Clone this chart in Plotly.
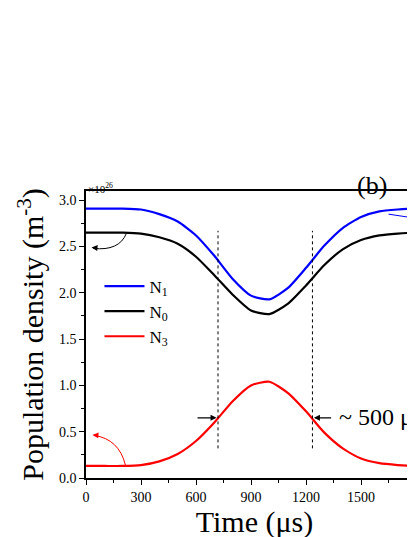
import plotly.graph_objects as go

time = [0, 100, 200, 300, 400, 500, 600, 700, 800, 900, 1000, 1100, 1200, 1300, 1400, 1500, 1600, 1700, 1800, 1900]
n1 = [2.91, 2.91, 2.91, 2.90, 2.85, 2.77, 2.62, 2.40, 2.15, 1.97, 1.93, 2.05, 2.27, 2.51, 2.70, 2.82, 2.88, 2.90, 2.91, 2.91]
n0 = [2.65, 2.65, 2.65, 2.64, 2.60, 2.53, 2.39, 2.19, 1.98, 1.81, 1.77, 1.88, 2.08, 2.30, 2.47, 2.57, 2.62, 2.64, 2.65, 2.65]
n3 = [0.13, 0.13, 0.13, 0.14, 0.18, 0.26, 0.40, 0.60, 0.83, 1.00, 1.04, 0.92, 0.72, 0.49, 0.32, 0.21, 0.16, 0.14, 0.13, 0.13]

F = "Liberation Serif"
fig = go.Figure()
for name, y, c in [("N<sub>1</sub>", n1, "#0000ff"), ("N<sub>0</sub>", n0, "#000000"), ("N<sub>3</sub>", n3, "#ff0000")]:
    fig.add_trace(go.Scatter(x=time, y=y, mode="lines", name=name,
                             line=dict(color=c, width=2.2, shape="spline", smoothing=0.6)))

for xv in [720, 1235]:
    fig.add_shape(type="line", x0=xv, x1=xv, y0=0.32, y1=2.67, xref="x", yref="y",
                  line=dict(color="black", width=1, dash="dot"))

# curved pointers
fig.add_shape(type="path", path="M 220,2.64 Q 180,2.45 40,2.48", line=dict(color="black", width=1))
fig.add_shape(type="path", path="M 215,0.14 Q 180,0.42 45,0.46", line=dict(color="red", width=1))
fig.add_shape(type="line", x0=1650, y0=2.85, x1=1850, y1=2.79, line=dict(color="#0000ff", width=1))

arr = dict(xref="x", yref="y", axref="x", ayref="y", showarrow=True, arrowhead=2, arrowsize=1, arrowwidth=1.2, text="")
fig.add_annotation(x=30, y=2.49, ax=60, ay=2.485, arrowcolor="black", **arr)
fig.add_annotation(x=35, y=0.465, ax=70, ay=0.46, arrowcolor="red", **arr)
fig.add_annotation(x=712, y=0.65, ax=600, ay=0.65, arrowcolor="black", **arr)
fig.add_annotation(x=1243, y=0.65, ax=1345, ay=0.65, arrowcolor="black", **arr)
fig.add_annotation(x=1370, y=0.66, text="~ 500 μs", showarrow=False, xanchor="left",
                   font=dict(family=F, size=24, color="black"))
fig.add_annotation(xref="paper", yref="paper", x=0.0, y=1.0, yshift=12, text="×10<sup>26</sup>",
                   showarrow=False, xanchor="left", font=dict(family=F, size=11, color="black"))
fig.add_annotation(xref="paper", yref="paper", x=0.85, y=1.0, yshift=22, text="(b)",
                   showarrow=False, xanchor="center", font=dict(family=F, size=26, color="black"))

ax = dict(showline=True, linecolor="black", linewidth=1.5, mirror=True, ticks="outside", ticklen=5,
          tickcolor="black", showgrid=False, zeroline=False, automargin=False,
          tickfont=dict(family=F, size=14, color="black"),
          minor=dict(ticks="outside", ticklen=3, tickcolor="black"))
fig.update_xaxes(range=[0, 1838], tick0=0, dtick=300, minor_dtick=150,
                 title=dict(text="Time (μs)", font=dict(family=F, size=30, color="black"), standoff=4), **ax)
fig.update_yaxes(range=[0, 3.1], tick0=0, dtick=0.5, minor_dtick=0.25, tickformat=".1f",
                 title=dict(text="Population density (m<sup>-3</sup>)", font=dict(family=F, size=30, color="black"), standoff=6), **ax)

fig.update_layout(width=415, height=537, margin=dict(l=78, r=0, t=183, b=67, autoexpand=False),
                  plot_bgcolor="white", paper_bgcolor="white",
                  legend=dict(x=0.04, y=0.73, xanchor="left", yanchor="top", bgcolor="rgba(0,0,0,0)",
                              font=dict(family=F, size=17, color="black"), itemwidth=40, tracegroupgap=0))
fig.write_html("out.html")
